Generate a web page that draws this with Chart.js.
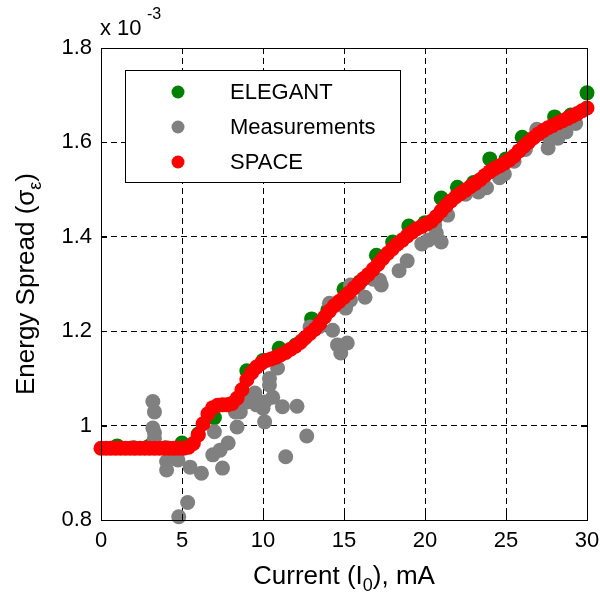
<!DOCTYPE html>
<html>
<head>
<meta charset="utf-8">
<script src="https://cdn.jsdelivr.net/npm/chart.js@4"></script>
<style>
html, body { margin: 0; padding: 0; background: #fff; }
</style>
</head>
<body>
<canvas id="spreadChart" width="600" height="595"></canvas>
<script>
// Energy spread (x 10^-3) vs. beam current (mA)
const elegantX = [1, 2, 3, 4, 5, 6, 7, 8, 9, 10, 11, 12, 13, 14, 15, 16, 17, 18, 19, 20,
                  21, 22, 23, 24, 25, 26, 27, 28, 29, 30];
const elegantY = [0.957, 0.953, 0.957, 0.953, 0.963, 0.982, 1.017, 1.046, 1.116, 1.138,
                  1.164, 1.170, 1.226, 1.245, 1.289, 1.305, 1.361, 1.389, 1.423, 1.430,
                  1.482, 1.505, 1.515, 1.565, 1.565, 1.611, 1.620, 1.654, 1.658, 1.705];

const measX = [3.2, 3.3, 3.2, 3.3, 3.3, 3.25, 4.05, 4.05, 4.75, 4.5, 5.5, 6.2, 5.35, 4.8,
               7.0, 6.9, 7.35, 7.85, 7.5, 8.4, 8.3, 8.6, 9.0, 9.4, 9.5, 9.6, 10.0, 10.1, 10.1,
               10.4, 10.4, 10.6, 10.9, 11.2, 12.1, 12.7, 11.4, 12.9, 12.4, 13.5, 14.1, 14.3,
               14.6, 15.2, 14.8, 15.1, 15.4, 15.4, 15.9, 16.3, 16.8, 17.3, 17.2, 18.4, 18.9,
               19.8, 20.2, 21.0, 20.7, 20.6, 21.4, 22.5, 23.3, 23.8, 24.6, 24.9, 25.5, 26.2,
               26.9, 27.6, 28.2, 28.7, 27.5, 29.3];
const measY = [1.051, 1.029, 0.995, 0.985, 0.972, 0.955, 0.924, 0.906, 0.927, 0.940, 0.912,
               0.899, 0.837, 0.807, 0.987, 0.938, 0.948, 0.963, 0.910, 0.997, 1.029, 1.029,
               1.050, 1.061, 1.069, 1.044, 1.037, 1.008, 1.050, 1.086, 1.100, 1.060, 1.122,
               1.040, 1.041, 0.978, 0.934, 1.209, 1.180, 1.210, 1.259, 1.202, 1.171, 1.175,
               1.154, 1.249, 1.266, 1.298, 1.298, 1.272, 1.310, 1.298, 1.308, 1.328, 1.349,
               1.385, 1.393, 1.389, 1.408, 1.425, 1.446, 1.490, 1.495, 1.504, 1.525, 1.533,
               1.560, 1.585, 1.628, 1.588, 1.609, 1.622, 1.616, 1.640];

const spaceX = [0, 0.3, 0.6, 0.9, 1.2, 1.5, 1.8, 2.1, 2.4, 2.7, 3, 3.3, 3.6, 3.9, 4.2, 4.5,
                4.8, 5.1, 5.4, 5.7, 6, 6.3, 6.6, 6.9, 7.2, 7.5, 7.8, 8.1, 8.4, 8.7, 9, 9.3,
                9.6, 9.9, 10.2, 10.5, 10.8, 11.1, 11.4, 11.7, 12, 12.3, 12.6, 12.9, 13.2,
                13.5, 13.8, 14.1, 14.4, 14.7, 15, 15.3, 15.6, 15.9, 16.2, 16.5, 16.8, 17.1,
                17.4, 17.7, 18, 18.3, 18.6, 18.9, 19.2, 19.5, 19.8, 20.1, 20.4, 20.7, 21,
                21.3, 21.6, 21.9, 22.2, 22.5, 22.8, 23.1, 23.4, 23.7, 24, 24.3, 24.6, 24.9,
                25.2, 25.5, 25.8, 26.1, 26.4, 26.7, 27, 27.3, 27.6, 27.9, 28.2, 28.5, 28.8,
                29.1, 29.4, 29.7, 30];
const spaceY = [0.952, 0.952, 0.952, 0.952, 0.952, 0.952, 0.952, 0.952, 0.952, 0.952,
                0.952, 0.952, 0.952, 0.952, 0.952, 0.952, 0.952, 0.952,
                0.954, 0.962, 0.980, 1.004, 1.025, 1.038, 1.043, 1.044, 1.044, 1.047,
                1.058, 1.076, 1.097, 1.112, 1.124, 1.132, 1.138, 1.141, 1.145, 1.150,
                1.155, 1.162, 1.168, 1.176, 1.186, 1.195, 1.204, 1.216, 1.230, 1.243,
                1.254, 1.263, 1.272, 1.281, 1.291, 1.301, 1.311, 1.320, 1.331, 1.342,
                1.354, 1.365, 1.375, 1.385, 1.393, 1.402, 1.410, 1.417, 1.422, 1.427,
                1.433, 1.443, 1.455, 1.466, 1.476, 1.485, 1.492, 1.499, 1.506, 1.513,
                1.521, 1.530, 1.538, 1.545, 1.550, 1.556, 1.563, 1.571, 1.582, 1.592,
                1.601, 1.610, 1.618, 1.625, 1.631, 1.636, 1.641, 1.646, 1.651, 1.656,
                1.661, 1.667, 1.673];

const FONT = "'Liberation Sans', Arial, sans-serif";

function toPoints(xs, ys) {
    return xs.map((x, i) => ({ x: x, y: ys[i] }));
}

// box, inward ticks, legend, titles and exponent label
const decorPlugin = {
    id: 'decor',
    afterDatasetsDraw(chart) {
        const c = chart.ctx;
        const a = chart.chartArea;
        const xs = chart.scales.x, ys = chart.scales.y;
        c.save();
        c.strokeStyle = '#000';
        c.lineWidth = 1;
        c.strokeRect(Math.round(a.left) + 0.5, Math.round(a.top) + 0.5,
                     Math.round(a.right - a.left), Math.round(a.bottom - a.top));
        c.beginPath();
        xs.ticks.forEach(t => {
            const px = Math.round(xs.getPixelForValue(t.value)) + 0.5;
            c.moveTo(px, a.bottom); c.lineTo(px, a.bottom - 6);
            c.moveTo(px, a.top); c.lineTo(px, a.top + 6);
        });
        ys.ticks.forEach(t => {
            const py = Math.round(ys.getPixelForValue(t.value)) + 0.5;
            c.moveTo(a.left, py); c.lineTo(a.left + 6, py);
            c.moveTo(a.right, py); c.lineTo(a.right - 6, py);
        });
        c.stroke();
        c.restore();
    },
    afterDraw(chart) {
        const c = chart.ctx;
        const a = chart.chartArea;
        c.save();

        // legend box inside the plot
        c.fillStyle = '#fff';
        c.fillRect(125, 70, 275, 112);
        c.strokeStyle = '#000';
        c.lineWidth = 1;
        c.strokeRect(125.5, 70.5, 275, 112);
        chart.data.datasets.forEach((ds, i) => {
            const y = 92 + i * 35;
            c.fillStyle = ds.backgroundColor;
            c.beginPath();
            c.arc(178, y, 6.5, 0, Math.PI * 2);
            c.fill();
            c.fillStyle = '#000';
            c.font = '22px ' + FONT;
            c.textBaseline = 'middle';
            c.textAlign = 'left';
            c.fillText(ds.label, 230, y + 1);
        });

        // exponent label
        c.fillStyle = '#000';
        c.textBaseline = 'alphabetic';
        c.font = '22px ' + FONT;
        c.fillText('x 10', 100, 35);
        c.font = '16px ' + FONT;
        c.fillText('-3', 147, 19);

        // x title with subscript
        const xParts = [['Current (I', 26, 0], ['0', 18, 7], ['), mA', 26, 0]];
        drawParts(c, xParts, (a.left + a.right) / 2, 584);

        // y title, rotated, with subscript
        c.translate(34, (a.top + a.bottom) / 2);
        c.rotate(-Math.PI / 2);
        const yParts = [['Energy Spread (\u03c3', 26, 0], ['\u03b5', 18, 7], [')', 26, 0]];
        drawParts(c, yParts, 0, 0);
        c.restore();
    }
};

function drawParts(c, parts, cx, baseline) {
    let total = 0;
    parts.forEach(p => { c.font = p[1] + 'px ' + FONT; total += c.measureText(p[0]).width; });
    let x = cx - total / 2;
    c.textAlign = 'left';
    c.textBaseline = 'alphabetic';
    c.fillStyle = '#000';
    parts.forEach(p => {
        c.font = p[1] + 'px ' + FONT;
        c.fillText(p[0], x, baseline + p[2]);
        x += c.measureText(p[0]).width;
    });
}

const ctx = document.getElementById('spreadChart').getContext('2d');

const spreadChart = new Chart(ctx, {
    type: 'scatter',
    data: {
        datasets: [
            {
                label: 'ELEGANT',
                data: toPoints(elegantX, elegantY),
                backgroundColor: '#008000',
                borderWidth: 0,
                pointRadius: 7.5,
                pointHoverRadius: 7.5,
                order: 3
            },
            {
                label: 'Measurements',
                data: toPoints(measX, measY),
                backgroundColor: '#808080',
                borderWidth: 0,
                pointRadius: 7.5,
                pointHoverRadius: 7.5,
                order: 2
            },
            {
                label: 'SPACE',
                data: toPoints(spaceX, spaceY),
                backgroundColor: '#ff0000',
                borderWidth: 0,
                pointRadius: 7.5,
                pointHoverRadius: 7.5,
                order: 1
            }
        ]
    },
    options: {
        responsive: false,
        animation: false,
        devicePixelRatio: 1,
        clip: false,
        layout: {
            padding: { top: 48, right: 13, left: 0, bottom: 0 }
        },
        plugins: {
            legend: { display: false },
            tooltip: { enabled: false }
        },
        scales: {
            x: {
                type: 'linear',
                min: 0,
                max: 30,
                ticks: {
                    stepSize: 5,
                    color: '#000',
                    padding: 8,
                    maxRotation: 0,
                    font: { family: FONT, size: 22 }
                },
                grid: {
                    drawTicks: false,
                    lineWidth: 1,
                    color: c => (c.tick && (c.tick.value === 0 || c.tick.value === 30)) ? 'rgba(0,0,0,0)' : '#000'
                },
                border: { display: false, dash: [6, 4] },
                afterFit: s => { s.height = 75; s.paddingLeft = 0; s.paddingRight = 0; }
            },
            y: {
                type: 'linear',
                min: 0.8,
                max: 1.8,
                ticks: {
                    stepSize: 0.2,
                    color: '#000',
                    padding: 9,
                    font: { family: FONT, size: 22 },
                    callback: v => String(Number(v.toFixed(1)))
                },
                grid: {
                    drawTicks: false,
                    lineWidth: 1,
                    color: c => (c.tick && (Math.abs(c.tick.value - 0.8) < 1e-6 || Math.abs(c.tick.value - 1.8) < 1e-6)) ? 'rgba(0,0,0,0)' : '#000'
                },
                border: { display: false, dash: [6, 4] },
                afterFit: s => { s.width = 101; s.paddingTop = 0; s.paddingBottom = 0; }
            }
        }
    },
    plugins: [decorPlugin]
});
</script>
</body>
</html>
